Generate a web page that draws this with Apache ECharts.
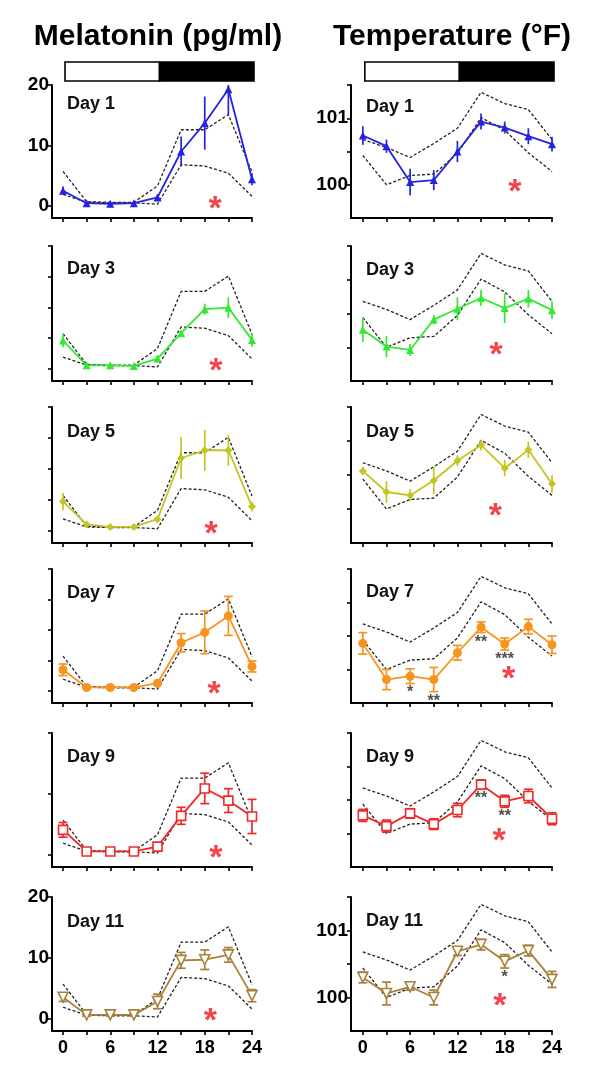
<!DOCTYPE html>
<html><head><meta charset="utf-8">
<script src="https://cdn.jsdelivr.net/npm/echarts@6/dist/echarts.min.js"></script>
<style>html,body{margin:0;padding:0;background:#fff}#c{width:600px;height:1074px}</style>
</head><body><div id="c"></div>
<script>
// ---------- data ----------
const hours = [0, 3, 6, 9, 12, 15, 18, 21, 24];
const xTicks = [0, 3, 6, 9, 12, 15, 18, 21, 24];
const xLabels = [0, 6, 12, 18, 24];
const dayNames = ['Day 1', 'Day 3', 'Day 5', 'Day 7', 'Day 9', 'Day 11'];
const melTicksCoarse = [0, 10, 20];
const melTicksFine = [0, 5, 10, 15, 20];
const melLabels = [0, 10, 20];
const tempTicks = [100, 100.5, 101, 101.5];
const tempLabels = [100, 101];
const lightPhase = [0, 12];
const darkPhase = [12, 24];

const melUpper = [5.7, 0.7, 0.6, 0.6, 3.3, 12.6, 12.6, 15.1, 5.6];
const melLower = [1.9, 0.6, 0.5, 0.5, 0.3, 6.8, 6.6, 5.4, 1.6];
const tempUpper = [100.68, 100.56, 100.41, 100.62, 100.85, 101.39, 101.22, 101.13, 100.68];
const tempLower = [100.44, 100.0, 100.14, 100.16, 100.47, 101.01, 100.82, 100.48, 100.2];

const mel1 = [2.5, 0.45, 0.35, 0.45, 1.4, 9.0, 13.7, 19.3, 4.4];
const mel1Err = [0.7, 0.2, 0.1, 0.2, 0.3, 2.5, 4.4, 4.3, 1.0];
const mel3 = [4.6, 0.55, 0.55, 0.45, 1.65, 5.8, 9.7, 9.95, 4.7];
const mel3Err = [1.1, 0.2, 0.1, 0.1, 0.6, 0.4, 0.9, 1.7, 1.1];
const mel5 = [4.7, 1.0, 0.6, 0.6, 1.85, 11.75, 13.0, 13.0, 3.9];
const mel5Err = [1.4, 0.3, 0.2, 0.2, 0.4, 3.4, 3.3, 2.5, 0.8];
const mel7 = [3.45, 0.55, 0.55, 0.55, 1.25, 7.9, 9.6, 12.3, 4.0];
const mel7Err = [0.95, 0.1, 0.1, 0.1, 0.2, 1.5, 3.5, 3.2, 0.9];
const mel9 = [4.1, 0.55, 0.55, 0.55, 1.35, 6.4, 10.9, 8.9, 6.3];
const mel9Err = [1.2, 0.1, 0.1, 0.1, 0.2, 1.4, 2.5, 1.95, 2.8];
const mel11 = [3.55, 0.65, 0.65, 0.65, 2.85, 9.6, 9.7, 10.5, 3.8];
const mel11Err = [0.7, 0.2, 0.2, 0.2, 1.2, 1.3, 1.6, 1.2, 1.0];

const temp1 = [100.74, 100.58, 100.04, 100.07, 100.5, 100.95, 100.86, 100.73, 100.61];
const temp1Err = [0.14, 0.1, 0.2, 0.15, 0.16, 0.12, 0.09, 0.12, 0.11];
const temp3 = [100.26, 100.01, 99.96, 100.41, 100.57, 100.73, 100.58, 100.72, 100.55];
const temp3Err = [0.18, 0.16, 0.09, 0.07, 0.17, 0.12, 0.22, 0.13, 0.13];
const temp5 = [100.56, 100.25, 100.2, 100.42, 100.71, 100.94, 100.6, 100.87, 100.37];
const temp5Err = [0.06, 0.16, 0.09, 0.2, 0.08, 0.08, 0.12, 0.12, 0.13];
const temp7 = [100.39, 99.85, 99.9, 99.85, 100.25, 100.63, 100.38, 100.64, 100.37];
const temp7Err = [0.16, 0.15, 0.11, 0.18, 0.11, 0.08, 0.09, 0.11, 0.13];
const temp9 = [100.27, 100.11, 100.3, 100.14, 100.35, 100.73, 100.48, 100.56, 100.22];
const temp9Err = [0.09, 0.09, 0.07, 0.08, 0.1, 0.07, 0.09, 0.1, 0.09];
const temp11 = [100.3, 100.06, 100.16, 100.0, 100.69, 100.79, 100.54, 100.7, 100.27];
const temp11Err = [0.08, 0.17, 0.05, 0.11, 0.06, 0.08, 0.1, 0.08, 0.12];

const temp7Sig = ['', '', '*', '**', '', '**', '***', '', ''];
const temp9Sig = ['', '', '', '', '', '**', '**', '', ''];
const temp11Sig = ['', '', '', '', '', '', '*', '', ''];

const melStar = [[19.3, 0.7], [19.4, 0.8], [18.8, 0.6], [19.2, 0.7], [19.4, 0.65], [18.7, 0.8]];
const tempStar = [[19.3, 100.0], [16.9, 100.0], [16.8, 100.0], [18.5, 99.97], [17.3, 100.0], [17.4, 99.98]];

// ---------- styles ----------
const FONT = 'Arial, "Liberation Sans", sans-serif';
const colors = ['#2323e0', '#33e833', '#c4c424', '#f7941d', '#ee2a2a', '#a8823c'];
const symbols = ['triangle', 'triangle', 'diamond', 'circle', 'rect', 'triangle'];
const openSym = [false, false, false, false, true, true];
const rotSym = [0, 0, 0, 0, 0, 180];
const symSize = [8, 8, 8, 9, 9, 10];
const caps = [false, false, false, true, true, true];
const melMeans = [mel1, mel3, mel5, mel7, mel9, mel11];
const melErrs = [mel1Err, mel3Err, mel5Err, mel7Err, mel9Err, mel11Err];
const tempMeans = [temp1, temp3, temp5, temp7, temp9, temp11];
const tempErrs = [temp1Err, temp3Err, temp5Err, temp7Err, temp9Err, temp11Err];
const tempSigs = [null, null, null, temp7Sig, temp9Sig, temp11Sig];

const rowTops = [85, 246, 407, 569, 733, 897];
const rowBottoms = [218, 381, 543, 703, 867, 1031];
const colLeft = [52, 351];
const colWidth = [200, 201];
const colXMin = [-1.4, -1.5];
const dayLabelY = [[104, 107], [269, 270], [432, 432], [593, 592], [757, 757], [922, 921]];

const grids = [], xAxes = [], yAxes = [], series = [];

function errRender(cap) {
  return function (params, api) {
    const x = api.value(0), lo = api.value(1), hi = api.value(2);
    const p1 = api.coord([x, hi]), p2 = api.coord([x, lo]);
    const cs = params.coordSys;
    const top = Math.max(p1[1], cs.y);
    const st = { stroke: api.visual('color'), lineWidth: 1.7 };
    const ch = [{ type: 'line', shape: { x1: p1[0], y1: top, x2: p2[0], y2: p2[1] }, style: st }];
    if (cap) {
      const w = 4.5;
      ch.push({ type: 'line', shape: { x1: p1[0] - w, y1: p1[1], x2: p1[0] + w, y2: p1[1] }, style: st });
      ch.push({ type: 'line', shape: { x1: p2[0] - w, y1: p2[1], x2: p2[0] + w, y2: p2[1] }, style: st });
    }
    return { type: 'group', children: ch };
  };
}

for (let r = 0; r < 6; r++) {
  for (let c = 0; c < 2; c++) {
    const g = grids.length;
    grids.push({ left: colLeft[c], width: colWidth[c], top: rowTops[r], height: rowBottoms[r] - rowTops[r] });
    xAxes.push({
      gridIndex: g, type: 'value', min: colXMin[c], max: 24,
      axisLine: { show: true, onZero: false, lineStyle: { color: '#000', width: 2 } },
      axisTick: { show: true, length: 4, customValues: xTicks, lineStyle: { color: '#000', width: 1.6 } },
      axisLabel: { show: r === 5, customValues: xLabels, fontSize: 18, fontWeight: 'bold', color: '#000', fontFamily: FONT, margin: 8 },
      splitLine: { show: false }
    });
    const isMel = c === 0;
    const yt = isMel ? ((r === 0 || r === 4 || r === 5) ? melTicksCoarse : melTicksFine) : tempTicks;
    yAxes.push({
      gridIndex: g, type: 'value',
      min: isMel ? -2 : 99.5, max: isMel ? 20 : 101.5,
      axisLine: { show: true, onZero: false, lineStyle: { color: '#000', width: 2 } },
      axisTick: { show: true, length: 4, customValues: yt, lineStyle: { color: '#000', width: 1.6 } },
      axisLabel: { show: r === 0 || r === 5, customValues: isMel ? melLabels : tempLabels, fontSize: 19, fontWeight: 'bold', color: '#000', fontFamily: FONT, margin: 3 },
      splitLine: { show: false }
    });
    const up = isMel ? melUpper : tempUpper;
    const low = isMel ? melLower : tempLower;
    const mean = isMel ? melMeans[r] : tempMeans[r];
    const err = isMel ? melErrs[r] : tempErrs[r];
    const col = colors[r];
    const dashed = { color: '#222', width: 1.3, type: [3, 2] };
    series.push({ type: 'line', xAxisIndex: g, yAxisIndex: g, data: hours.map((h, i) => [h, up[i]]), symbol: 'none', lineStyle: dashed, silent: true, z: 2 });
    series.push({ type: 'line', xAxisIndex: g, yAxisIndex: g, data: hours.map((h, i) => [h, low[i]]), symbol: 'none', lineStyle: dashed, silent: true, z: 2 });
    series.push({
      type: 'custom', xAxisIndex: g, yAxisIndex: g, z: 3, silent: true,
      itemStyle: { color: col },
      renderItem: errRender(caps[r]),
      data: hours.map((h, i) => [h, mean[i] - err[i], mean[i] + err[i]])
    });
    series.push({
      type: 'line', xAxisIndex: g, yAxisIndex: g, z: 4, silent: true,
      data: hours.map((h, i) => [h, mean[i]]),
      symbol: symbols[r], symbolSize: symSize[r], symbolRotate: rotSym[r], showAllSymbol: true,
      lineStyle: { color: col, width: 1.8 },
      itemStyle: openSym[r] ? { color: '#fff', borderColor: col, borderWidth: 1.6 } : { color: col, borderWidth: 0 }
    });
    const star = isMel ? melStar[r] : tempStar[r];
    series.push({
      type: 'scatter', xAxisIndex: g, yAxisIndex: g, z: 5, silent: true,
      data: [star], symbolSize: 1, itemStyle: { color: 'rgba(0,0,0,0)' },
      label: { show: true, formatter: '*', position: 'inside', color: '#f0141e', fontSize: 34, fontWeight: 'bold', fontFamily: FONT, offset: [0, 8] }
    });
    if (!isMel && tempSigs[r]) {
      const sig = tempSigs[r];
      const sd = [];
      hours.forEach((h, i) => { if (sig[i]) sd.push([h, mean[i] - err[i], sig[i]]); });
      series.push({
        type: 'scatter', xAxisIndex: g, yAxisIndex: g, z: 5, silent: true,
        data: sd, symbolSize: 1, itemStyle: { color: 'rgba(0,0,0,0)' },
        label: { show: true, formatter: p => p.value[2], position: 'bottom', distance: 1, color: '#222', fontSize: 16, fontWeight: 'bold', fontFamily: FONT }
      });
    }
  }
}

// light/dark header bars
for (let c = 0; c < 2; c++) {
  const g = grids.length;
  grids.push({ left: colLeft[c], width: colWidth[c], top: 62, height: 19 });
  xAxes.push({ gridIndex: g, type: 'value', min: colXMin[c], max: 24, show: false });
  yAxes.push({ gridIndex: g, type: 'value', min: 0, max: 1, show: false });
  series.push({
    type: 'custom', xAxisIndex: g, yAxisIndex: g, silent: true,
    data: [[lightPhase[0], lightPhase[1], 0], [darkPhase[0], darkPhase[1], 1]],
    renderItem: function (params, api) {
      const a = api.coord([api.value(0), 1]), b = api.coord([api.value(1), 0]);
      return {
        type: 'rect',
        shape: { x: a[0] + 2, y: a[1], width: b[0] - a[0], height: b[1] - a[1] },
        style: { fill: api.value(2) ? '#000' : '#fff', stroke: '#000', lineWidth: 1.6 }
      };
    }
  });
}

const graphics = [
  { type: 'text', x: 158, y: 37, style: { text: 'Melatonin (pg/ml)', font: 'bold 30px ' + FONT, fill: '#000', textAlign: 'center', textVerticalAlign: 'middle' } },
  { type: 'text', x: 452, y: 37, style: { text: 'Temperature (°F)', font: 'bold 30px ' + FONT, fill: '#000', textAlign: 'center', textVerticalAlign: 'middle' } }
];
const dayLabelX = [67, 366];
for (let r = 0; r < 6; r++) {
  for (let c = 0; c < 2; c++) {
    graphics.push({ type: 'text', x: dayLabelX[c], y: dayLabelY[r][c], style: { text: dayNames[r], font: 'bold 18px ' + FONT, fill: '#111', textAlign: 'left', textVerticalAlign: 'middle' } });
  }
}

const chart = echarts.init(document.getElementById('c'), null, { renderer: 'canvas' });
chart.setOption({
  animation: false,
  backgroundColor: '#fff',
  grid: grids, xAxis: xAxes, yAxis: yAxes, series: series,
  graphic: graphics
});
</script>
</body></html>
